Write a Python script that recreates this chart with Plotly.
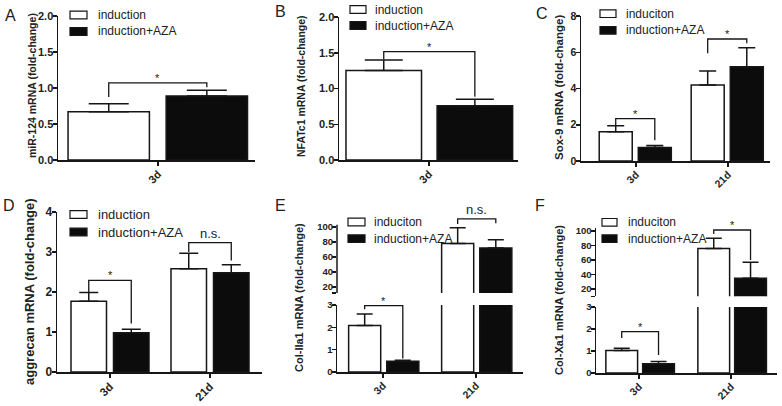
import plotly.graph_objects as go

W, H = 782, 406

# ------------------------- data -------------------------
A_categories = ["3d"]
A_induction = [0.67]
A_induction_sem = [0.11]
A_aza = [0.89]
A_aza_sem = [0.08]
A_significance = ["*"]

B_categories = ["3d"]
B_induction = [1.25]
B_induction_sem = [0.15]
B_aza = [0.76]
B_aza_sem = [0.09]
B_significance = ["*"]

C_categories = ["3d", "21d"]
C_induction = [1.62, 4.20]
C_induction_sem = [0.33, 0.77]
C_aza = [0.75, 5.20]
C_aza_sem = [0.10, 1.05]
C_significance = ["*", "*"]

D_categories = ["3d", "21d"]
D_induction = [1.77, 2.58]
D_induction_sem = [0.22, 0.39]
D_aza = [0.98, 2.48]
D_aza_sem = [0.09, 0.20]
D_significance = ["*", "n.s."]

E_categories = ["3d", "21d"]
E_induction = [2.08, 78.0]
E_induction_sem = [0.52, 21.0]
E_aza = [0.48, 72.0]
E_aza_sem = [0.05, 11.0]
E_significance = ["*", "n.s."]

F_categories = ["3d", "21d"]
F_induction = [1.02, 76.0]
F_induction_sem = [0.10, 14.0]
F_aza = [0.42, 35.0]
F_aza_sem = [0.10, 22.0]
F_significance = ["*", "*"]

legend_labels_ABD = ["induction", "induction+AZA"]
legend_labels_CEF = ["induciton", "induction+AZA"]

y_titles = {
    "A": "miR-124 mRNA (fold-change)",
    "B": "NFATc1 mRNA (fold-change)",
    "C": "Sox-9 mRNA (fold-change)",
    "D": "aggrecan mRNA (fold-change)",
    "E": "Col-IIa1 mRNA (fold-change)",
    "F": "Col-Xa1 mRNA (fold-change)",
}

# ------------------------- styling / layout config -------------------------
FONT = "Liberation Sans, Arial, sans-serif"
INK = "#161616"
TXT = "#222222"
LW = 1.5


def fx(p):
    return p / W


def fy(p):
    return 1 - p / H


panels = [
    dict(key="A", n="", cats=A_categories, ind=A_induction, ind_e=A_induction_sem,
         aza=A_aza, aza_e=A_aza_sem, sig=A_significance, names=legend_labels_ABD,
         xdom=(58, 255), xrange=(-0.508, 0.492), ydom=(16, 160), yrange=(0, 2),
         yticks=[0, 0.5, 1.0, 1.5, 2.0], ytext=["0.0", "0.5", "1.0", "1.5", "2.0"],
         bars=((-0.457, 0.413), (0.041, 0.413)), cap=20, tickfs=11, xtickfs=11, titlefs=10.5,
         title_xy=(32, 86), letter_xy=(10, 15),
         brackets=[(1.07, 0.875, 1.01, "lo")],
         leg=dict(x0=70, x1=87, rows=(15, 31.5), tx=96, fs=12)),
    dict(key="B", n="2", cats=B_categories, ind=B_induction, ind_e=B_induction_sem,
         aza=B_aza, aza_e=B_aza_sem, sig=B_significance, names=legend_labels_ABD,
         xdom=(339, 518), xrange=(-0.503, 0.497), ydom=(17, 160), yrange=(0, 2),
         yticks=[0, 0.5, 1.0, 1.5, 2.0], ytext=["0.0", "0.5", "1.0", "1.5", "2.0"],
         bars=((-0.464, 0.422), (0.045, 0.422)), cap=19, tickfs=11, xtickfs=11, titlefs=10.5,
         title_xy=(301, 86), letter_xy=(280, 11),
         brackets=[(1.515, 1.41, 0.885, "lo")],
         leg=dict(x0=350, x1=366, rows=(9.5, 25.5), tx=373, fs=12)),
    dict(key="C", n="3", cats=C_categories, ind=C_induction, ind_e=C_induction_sem,
         aza=C_aza, aza_e=C_aza_sem, sig=C_significance, names=legend_labels_CEF,
         xdom=(581, 770), xrange=(-0.598, 1.457), ydom=(16, 161), yrange=(0, 8),
         yticks=[0, 2, 4, 6, 8], ytext=["0", "2", "4", "6", "8"],
         bars=((-0.40, 0.359), (0.025, 0.359)), cap=8.5, tickfs=10.5, xtickfs=10.5, titlefs=11.5,
         title_xy=(559, 88), letter_xy=(542, 13),
         brackets=[(2.34, 1.95, 1.14, "lo"), (6.73, 5.94, 6.49, "lo")],
         leg=dict(x0=600, x1=616, rows=(13.7, 30.3), tx=624, fs=12)),
    dict(key="D", n="4", cats=D_categories, ind=D_induction, ind_e=D_induction_sem,
         aza=D_aza, aza_e=D_aza_sem, sig=D_significance, names=legend_labels_ABD,
         xdom=(57, 262), xrange=(-0.53, 1.52), ydom=(212, 372), yrange=(0, 4),
         yticks=[0, 1, 2, 3, 4], ytext=["0", "1", "2", "3", "4"],
         bars=((-0.39, 0.355), (0.035, 0.355)), cap=9.5, tickfs=12, xtickfs=11.5, titlefs=13,
         title_xy=(29, 292), letter_xy=(9, 205),
         brackets=[(2.29, 2.0, 1.21, "lo"), (3.235, 3.0, 2.79, "lo")],
         leg=dict(x0=70, x1=87, rows=(214.5, 232), tx=96, fs=13)),
    dict(key="E", n="5", un="7", cats=E_categories, ind=E_induction, ind_e=E_induction_sem,
         aza=E_aza, aza_e=E_aza_sem, sig=E_significance, names=legend_labels_CEF,
         xdom=(337, 523), xrange=(-0.495, 1.505), ydom=(305, 372), yrange=(0, 3),
         yticks=[0, 1, 2, 3], ytext=["0", "1", "2", "3"],
         udom=(216.5, 293), urange=(12, 114), uline_top=103,
         uticks=[12, 20, 40, 60, 80, 100], utext=["", "20", "40", "60", "80", "100"],
         bars=((-0.37, 0.345), (0.04, 0.345)), cap=8, tickfs=9.5, xtickfs=10.5, titlefs=11,
         title_xy=(299, 298), letter_xy=(280, 205),
         brackets=[(2.97, 2.81, 0.61, "lo"), (110.7, 104, 105, "up")],
         leg=dict(x0=348, x1=365, rows=(222, 238.7), tx=372, fs=12)),
    dict(key="F", n="6", un="8", cats=F_categories, ind=F_induction, ind_e=F_induction_sem,
         aza=F_aza, aza_e=F_aza_sem, sig=F_significance, names=legend_labels_CEF,
         xdom=(596, 777), xrange=(-0.467, 1.5), ydom=(307, 373), yrange=(0, 3),
         yticks=[0, 1, 2, 3], ytext=["0", "1", "2", "3"],
         udom=(228.1, 296.25), urange=(10, 104), uline_top=None,
         uticks=[10, 20, 40, 60, 80, 100], utext=["", "20", "40", "60", "80", "100"],
         bars=((-0.36, 0.345), (0.04, 0.345)), cap=8, tickfs=9.5, xtickfs=10.5, titlefs=11,
         title_xy=(559, 300), letter_xy=(540, 205),
         brackets=[(1.88, 1.59, 0.82, "lo"), (101.4, 96, 60, "up")],
         leg=dict(x0=602, x1=617, rows=(222.3, 238.7), tx=626, fs=12)),
]

fig = go.Figure()
layout = dict(
    width=W, height=H, margin=dict(l=0, r=0, t=0, b=0, pad=0), autosize=False,
    paper_bgcolor="white", plot_bgcolor="white", barmode="overlay",
    showlegend=False, font=dict(family=FONT, color=TXT),
)
shapes = []
annotations = []

for p in panels:
    n = p["n"]
    xa, ya = "x" + n, "y" + n
    cats = p["cats"]
    idx = list(range(len(cats)))
    y_axes = [(ya, "lo")]
    if "un" in p:
        y_axes.append(("y" + p["un"], "up"))

    series = [
        (p["names"][0], p["ind"], p["ind_e"], "white", p["bars"][0]),
        (p["names"][1], p["aza"], p["aza_e"], "#0c0c0c", p["bars"][1]),
    ]
    for yref, _ in y_axes:
        for name, vals, sem, fill, (off, wid) in series:
            fig.add_trace(go.Bar(
                x=idx, y=vals, name=name, xaxis=xa, yaxis=yref,
                offset=off, width=[wid] * len(idx),
                marker=dict(color=fill, line=dict(color=INK, width=LW)),
                error_y=dict(type="data", array=sem, arrayminus=[0] * len(sem),
                             symmetric=False, color=INK, thickness=LW, width=p["cap"]),
                showlegend=False, hoverinfo="x+y",
            ))

    # significance brackets
    (ow, ww), (ob, wb) = p["bars"]
    for gi, (top, lb, rb, seg) in enumerate(p["brackets"]):
        xl = idx[gi] + ow + ww / 2
        xr = idx[gi] + ob + wb / 2
        yref = ya if seg == "lo" else "y" + p["un"]
        fig.add_trace(go.Scatter(
            x=[xl, xl, xr, xr], y=[lb, top, top, rb], mode="lines",
            line=dict(color=INK, width=1.3), xaxis=xa, yaxis=yref,
            showlegend=False, hoverinfo="skip",
        ))
        label = p["sig"][gi]
        is_star = label == "*"
        annotations.append(dict(
            x=(xl + xr) / 2, y=top, xref=xa, yref=yref, text=label, showarrow=False,
            xanchor="center", yanchor="bottom", yshift=-3 if is_star else 0,
            font=dict(size=11 if is_star else 13, color=TXT, family=FONT),
        ))

    # axes
    tickfont = dict(family=FONT, size=p["tickfs"], color=TXT, weight="bold")
    key_x = "xaxis" + n
    layout[key_x] = dict(
        domain=[fx(p["xdom"][0]), fx(p["xdom"][1])], range=list(p["xrange"]),
        anchor=ya, tickmode="array", tickvals=idx, ticktext=cats, tickangle=-45,
        ticks="outside", ticklen=4, tickwidth=LW, tickcolor=INK, ticklabelstandoff=-2,
        showline=True, linewidth=LW, linecolor=INK, showgrid=False, zeroline=False,
        tickfont=dict(family=FONT, size=p["xtickfs"], color=TXT, weight="bold"),
        fixedrange=True, automargin=False,
    )
    key_y = "yaxis" + n
    layout[key_y] = dict(
        domain=[fy(p["ydom"][1]), fy(p["ydom"][0])], range=list(p["yrange"]),
        anchor=xa, tickmode="array", tickvals=p["yticks"], ticktext=p["ytext"],
        ticks="outside", ticklen=4, tickwidth=LW, tickcolor=INK, ticklabelstandoff=-3,
        showline=True, linewidth=LW, linecolor=INK, showgrid=False, zeroline=False,
        tickfont=tickfont, fixedrange=True, automargin=False,
    )
    if "un" in p:
        key_u = "yaxis" + p["un"]
        layout[key_u] = dict(
            domain=[fy(p["udom"][1]), fy(p["udom"][0])], range=list(p["urange"]),
            anchor=xa, tickmode="array", tickvals=p["uticks"], ticktext=p["utext"],
            ticks="outside", ticklen=4, tickwidth=LW, tickcolor=INK, ticklabelstandoff=-3,
            showline=p["uline_top"] is None, linewidth=LW, linecolor=INK,
            showgrid=False, zeroline=False, tickfont=tickfont, fixedrange=True,
            automargin=False,
        )
        if p["uline_top"] is not None:
            shapes.append(dict(
                type="line", xref=xa + " domain", yref="y" + p["un"],
                x0=0, x1=0, y0=p["urange"][0], y1=p["uline_top"],
                line=dict(color=INK, width=LW), layer="above",
            ))

    # y-axis title
    annotations.append(dict(
        x=fx(p["title_xy"][0]), y=fy(p["title_xy"][1]), xref="paper", yref="paper",
        text=y_titles[p["key"]], textangle=-90, showarrow=False,
        xanchor="center", yanchor="middle",
        font=dict(family=FONT, size=p["titlefs"], color=TXT, weight="bold"),
    ))
    # panel letter
    annotations.append(dict(
        x=fx(p["letter_xy"][0]), y=fy(p["letter_xy"][1]), xref="paper", yref="paper",
        text=p["key"], showarrow=False, xanchor="center", yanchor="middle",
        font=dict(family=FONT, size=16, color=TXT),
    ))
    # legend (swatches + labels)
    lg = p["leg"]
    for r, (name, fill) in enumerate(zip(p["names"], ["white", "#0c0c0c"])):
        yc = lg["rows"][r]
        shapes.append(dict(
            type="rect", xref="paper", yref="paper",
            x0=fx(lg["x0"]), x1=fx(lg["x1"]), y0=fy(yc + 3.8), y1=fy(yc - 3.8),
            fillcolor=fill, line=dict(color=INK, width=1.2), layer="above",
        ))
        annotations.append(dict(
            x=fx(lg["tx"]), y=fy(yc), xref="paper", yref="paper", text=name,
            showarrow=False, xanchor="left", yanchor="middle",
            font=dict(family=FONT, size=lg["fs"], color=TXT),
        ))

layout["shapes"] = shapes
layout["annotations"] = annotations
fig.update_layout(**layout)

# remove the browser's default 8px page margin so the 782x406 figure fills the window
page_fix = (
    "document.documentElement.style.margin='0';"
    "document.documentElement.style.overflow='hidden';"
    "document.body.style.margin='0';"
    "document.body.style.padding='0';"
    "document.body.style.overflow='hidden';"
)
fig.write_html("out.html", post_script=page_fix,
               config={"displayModeBar": False, "staticPlot": True})
